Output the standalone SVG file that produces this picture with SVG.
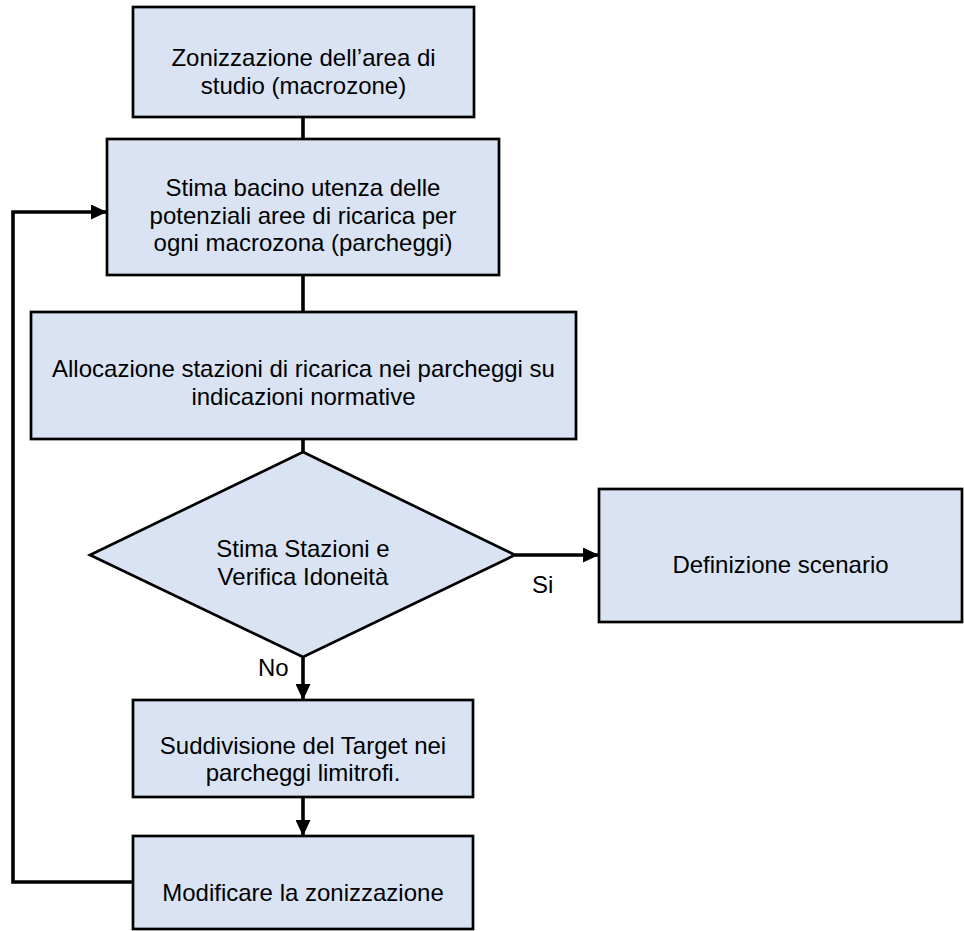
<svg xmlns="http://www.w3.org/2000/svg" width="964" height="931" viewBox="0 0 964 931">
  <style>
    .box { fill: #DAE3F3; stroke: #000; stroke-width: 2.7; }
    .lbl { font-family: "Liberation Sans", Arial, sans-serif; font-size: 24px; fill: #000; text-anchor: middle; }
    .tag { font-family: "Liberation Sans", Arial, sans-serif; font-size: 24px; fill: #000; }
    .wire { fill: none; stroke: #000; stroke-width: 3.6; }
  </style>
  <defs>
    <marker id="arrow" viewBox="0 0 16 15" refX="16" refY="7.5" markerWidth="16" markerHeight="15" markerUnits="userSpaceOnUse" orient="auto">
      <path d="M0,0 L16,7.5 L0,15 z" fill="#000"/>
    </marker>
  </defs>
  <rect width="964" height="931" fill="#fff"/>

  <!-- connectors -->
  <g id="connectors">
    <line class="wire" x1="303" y1="117" x2="303" y2="139"/>
    <line class="wire" x1="303" y1="275" x2="303" y2="312"/>
    <line class="wire" x1="303" y1="439" x2="303" y2="452"/>
    <line class="wire" x1="515" y1="555" x2="599" y2="555" marker-end="url(#arrow)"/>
    <line class="wire" x1="303" y1="657" x2="303" y2="700" marker-end="url(#arrow)"/>
    <line class="wire" x1="303" y1="797" x2="303" y2="836" marker-end="url(#arrow)"/>
    <polyline class="wire" points="133,882 13,882 13,212 107,212" marker-end="url(#arrow)"/>
    <text class="tag" x="532" y="593">Si</text>
    <text class="tag" x="258" y="676">No</text>
  </g>

  <!-- process steps -->
  <g id="zonizzazione">
    <rect class="box" x="133" y="7" width="341" height="110"/>
    <text class="lbl" x="303.5" y="66">Zonizzazione dell’area di</text>
    <text class="lbl" x="303.5" y="93.6">studio (macrozone)</text>
  </g>

  <g id="stima-bacino">
    <rect class="box" x="107" y="139" width="392" height="136"/>
    <text class="lbl" x="303" y="196">Stima bacino utenza delle</text>
    <text class="lbl" x="303" y="223.6">potenziali aree di ricarica per</text>
    <text class="lbl" x="303" y="251.2">ogni macrozona (parcheggi)</text>
  </g>

  <g id="allocazione">
    <rect class="box" x="31" y="312" width="545" height="127"/>
    <text class="lbl" x="303.5" y="377">Allocazione stazioni di ricarica nei parcheggi su</text>
    <text class="lbl" x="303.5" y="404.6">indicazioni normative</text>
  </g>

  <g id="verifica">
    <polygon class="box" points="303,452 515,555 303,657 90,555"/>
    <text class="lbl" x="303" y="557">Stima Stazioni e</text>
    <text class="lbl" x="303" y="584.6">Verifica Idoneità</text>
  </g>

  <g id="scenario">
    <rect class="box" x="599" y="489" width="363" height="133"/>
    <text class="lbl" x="780.5" y="573">Definizione scenario</text>
  </g>

  <g id="suddivisione">
    <rect class="box" x="133" y="700" width="340" height="97"/>
    <text class="lbl" x="303" y="753.5">Suddivisione del Target nei</text>
    <text class="lbl" x="303" y="781">parcheggi limitrofi.</text>
  </g>

  <g id="modificare">
    <rect class="box" x="133" y="836" width="340" height="93"/>
    <text class="lbl" x="303" y="901">Modificare la zonizzazione</text>
  </g>
</svg>
